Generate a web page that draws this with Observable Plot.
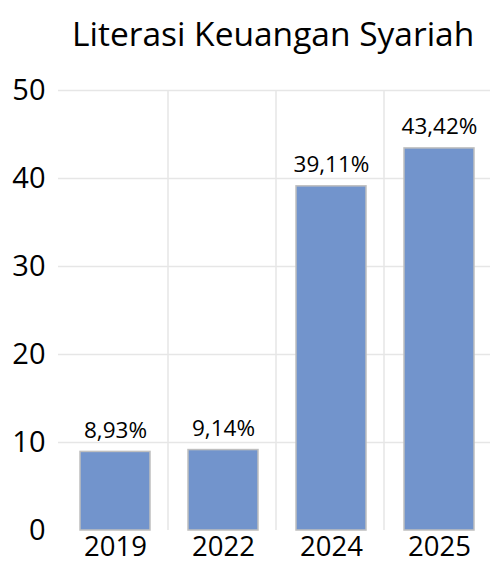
<!DOCTYPE html>
<html><head><meta charset="utf-8">
<script src="https://cdn.jsdelivr.net/npm/d3@7"></script>
<script src="https://cdn.jsdelivr.net/npm/@observablehq/plot@0.6"></script>
<style>
body{margin:0;background:#fff;font-family:"Open Sans",sans-serif;}
#title{height:70px;box-sizing:border-box;padding-top:17px;padding-left:72px;font-size:33.5px;color:#000;line-height:33px;white-space:nowrap}
</style></head><body>
<div id="title">Literasi Keuangan Syariah</div>
<div id="chart"></div>
<script>
const years = ["2019","2022","2024","2025"];
const values = [8.93, 9.14, 39.11, 43.42];
const labels = ["8,93%","9,14%","39,11%","43,42%"];
const yTicks = [0,10,20,30,40,50];
const data = years.map((y,i)=>({year:y, value:values[i], label:labels[i]}));
const chart = Plot.plot({
  width:490, height:495,
  marginTop:20, marginBottom:35, marginLeft:58, marginRight:0,
  style:{fontFamily:"Open Sans, sans-serif", background:"#fff"},
  x:{domain:years, range:[59.5,494.5], paddingInner:0.35, paddingOuter:0.175, label:null},
  y:{domain:[0,50], label:null},
  marks:[
    Plot.gridY(yTicks.slice(1), {stroke:"#e6e6e6", strokeOpacity:1, strokeWidth:1.5}),
    Plot.ruleX(years.slice(0,3), {x:d=>d, dx:52.5, stroke:"#e6e6e6", strokeWidth:1.5}),
    Plot.barY(data, {x:"year", y:"value", fill:"#7294CC", stroke:"#bfbfbf", strokeWidth:1.5}),
    Plot.text(data, {x:"year", y:"value", text:"label", lineAnchor:"bottom", dy:-14, fontSize:22.5, fill:"#000"}),
    Plot.axisY(yTicks, {tickSize:0, tickPadding:13, fontSize:29, fill:"#000"}),
    Plot.axisX({tickSize:0, tickPadding:6, fontSize:27.5, fill:"#000"})
  ]
});
document.getElementById("chart").appendChild(chart);
</script>
</body></html>
